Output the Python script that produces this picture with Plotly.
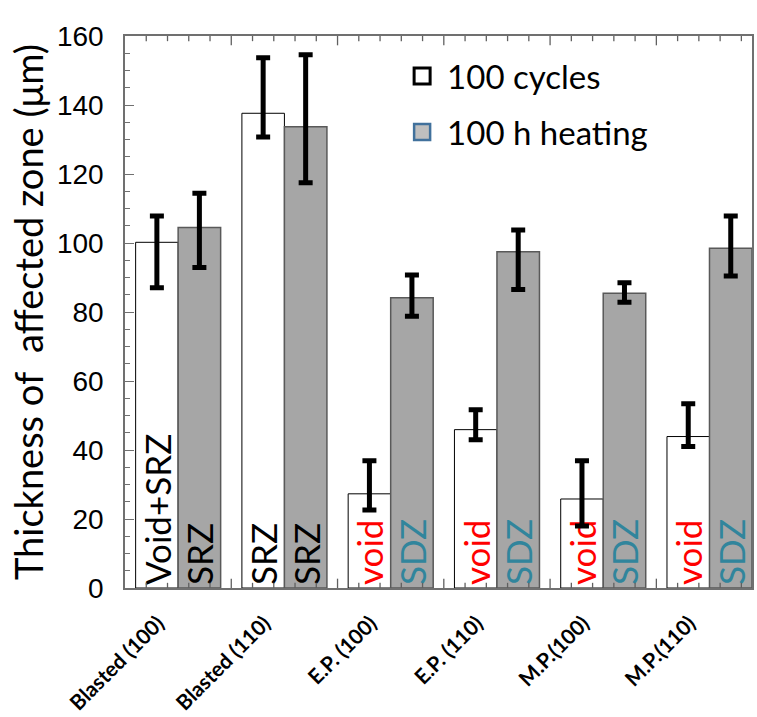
import plotly.graph_objects as go

categories = ["Blasted (100)", "Blasted (110)", "E.P. (100)", "E.P. (110)", "M.P.(100)", "M.P.(110)"]

cycles_val = [100.2, 137.6, 27.3, 45.9, 25.8, 43.9]
cycles_top = [107.8, 153.7, 36.9, 51.7, 36.9, 53.4]
cycles_bot = [87.0, 130.7, 22.6, 43.0, 18.0, 41.0]
cycles_text = ["Void+SRZ", "SRZ", "void", "void", "void", "void"]

heat_val = [104.5, 133.7, 84.1, 97.5, 85.4, 98.5]
heat_top = [114.4, 154.6, 90.7, 103.8, 88.5, 107.8]
heat_bot = [92.9, 117.5, 78.8, 86.5, 82.8, 90.4]
heat_text = ["SRZ", "SRZ", "SDZ", "SDZ", "SDZ", "SDZ"]

RED = "#FF0000"
TEAL = "#31859C"
cycles_tcol = ["black", "black", RED, RED, RED, RED]
heat_tcol = ["black", "black", TEAL, TEAL, TEAL, TEAL]

pos = list(range(len(categories)))
X_RANGE = [-0.5, 5.4]
Y_RANGE = [0, 160]
boundaries = [p + 0.5 for p in pos[:-1]]
minor_pos = [round(-0.3 + 0.2 * k, 2) for k in range(29)]
minor_pos = [v for v in minor_pos if abs((v % 1) - 0.5) > 1e-6]
FONT = "Lato"
TXT = 35
AX = "#606060"

fig = go.Figure()
fig.add_trace(go.Bar(
    x=pos, y=cycles_val, name="100 cycles", showlegend=False,
    marker=dict(color="white", line=dict(color="black", width=1)),
    error_y=dict(type="data", symmetric=False,
                 array=[t - v for t, v in zip(cycles_top, cycles_val)],
                 arrayminus=[v - b for b, v in zip(cycles_bot, cycles_val)],
                 color="black", thickness=5, width=7),
    text=cycles_text, textposition="inside", insidetextanchor="start", textangle=-90,
    constraintext="none",
    textfont=dict(family=FONT, size=TXT, color=cycles_tcol),
))
fig.add_trace(go.Bar(
    x=pos, y=heat_val, name="100 h heating", showlegend=False,
    marker=dict(color="#A6A6A6", line=dict(color="#595959", width=1.5)),
    error_y=dict(type="data", symmetric=False,
                 array=[t - v for t, v in zip(heat_top, heat_val)],
                 arrayminus=[v - b for b, v in zip(heat_bot, heat_val)],
                 color="black", thickness=5, width=7),
    text=heat_text, textposition="inside", insidetextanchor="start", textangle=-90,
    constraintext="none",
    textfont=dict(family=FONT, size=TXT, color=heat_tcol),
))
# legend entries
fig.add_trace(go.Scatter(x=[None], y=[None], mode="markers", name="100 cycles",
                         legendgroup="a",
                         marker=dict(symbol="square", size=20, color="white",
                                     line=dict(color="black", width=3))))
fig.add_trace(go.Scatter(x=[None], y=[None], mode="markers", name="100 h heating",
                         legendgroup="b",
                         marker=dict(symbol="square", size=20, color="#BFBFBF",
                                     line=dict(color="#41719C", width=2.5))))

# x-axis tick marks (bottom and top, pointing inward): long at group boundaries, short minor
MAJ, MIN = 2.7, 1.5  # tick lengths in y units (~9 px and ~5 px)
for vals, length in [(boundaries, MAJ), (minor_pos, MIN)]:
    for v in vals:
        fig.add_shape(type="line", xref="x", yref="y", x0=v, x1=v,
                      y0=Y_RANGE[0], y1=Y_RANGE[0] + length,
                      line=dict(color=AX, width=1.3), layer="above")
        fig.add_shape(type="line", xref="x", yref="y", x0=v, x1=v,
                      y0=Y_RANGE[1], y1=Y_RANGE[1] - length,
                      line=dict(color=AX, width=1.3), layer="above")

fig.update_layout(
    width=757, height=717,
    margin=dict(l=125, r=5, t=36, b=129, autoexpand=False),
    plot_bgcolor="white", paper_bgcolor="white",
    barmode="group", bargap=0.2, bargroupgap=0,
    showlegend=True,
    legend=dict(x=0.434, y=0.978, xanchor="left", yanchor="top",
                font=dict(family=FONT, size=33, color="black"),
                bgcolor="rgba(0,0,0,0)", itemsizing="trace", itemwidth=40,
                tracegroupgap=10),
    xaxis=dict(range=X_RANGE, tickmode="array", tickvals=pos, ticktext=categories,
               ticks="", tickangle=-45, showgrid=False, zeroline=False,
               automargin=False, showline=True, linecolor="#707070",
               linewidth=1.5, mirror=True,
               ticklabelstandoff=13, ticklabelshift=-20,
               tickfont=dict(family=FONT, size=21, color="black", weight="bold")),
    yaxis=dict(range=Y_RANGE, tickmode="linear", tick0=0, dtick=20,
               ticks="inside", ticklen=9, tickcolor="#707070", showgrid=False, zeroline=False,
               showline=True, linecolor="#707070", linewidth=1.5, mirror=True, automargin=False,
               minor=dict(ticks="inside", ticklen=5, dtick=5, tickcolor="#707070"),
               ticklabelstandoff=14,
               tickfont=dict(family="Liberation Sans, Arial", size=28, color="black"),
               title=dict(text="Thickness of  affected zone (μm)", standoff=2,
                          font=dict(family=FONT, size=38, color="black"))),
)

fig.write_html("out.html")
